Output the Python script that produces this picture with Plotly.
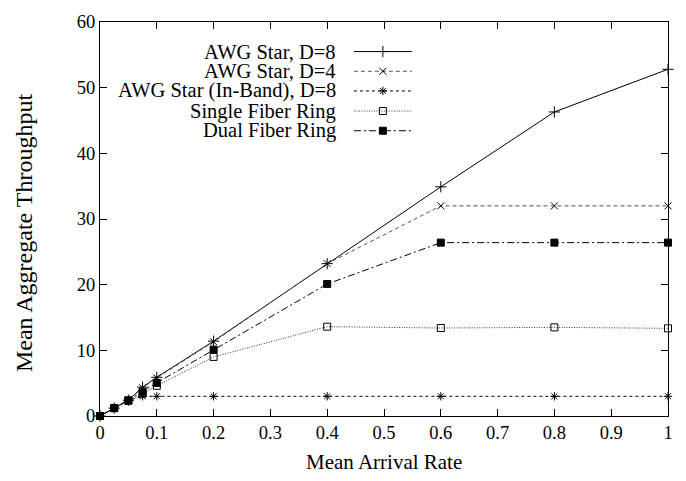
import plotly.graph_objects as go

rates = [0, 0.025, 0.05, 0.075, 0.1, 0.2, 0.4, 0.6, 0.8, 1.0]
awg_d8 = [0, 1.2, 2.4, 4.4, 5.9, 11.4, 23.2, 34.9, 46.3, 52.8]
awg_d4 = [0, 1.2, 2.4, 4.3, 5.8, 11.3, 23.2, 32.0, 32.0, 32.0]
awg_inband = [0, 1.2, 2.4, 3.0, 3.0, 3.0, 3.0, 3.0, 3.0, 3.0]
single_ring = [0, 1.2, 2.3, 3.4, 4.6, 9.0, 13.6, 13.4, 13.5, 13.35]
dual_ring = [0, 1.2, 2.4, 3.7, 5.05, 10.1, 20.1, 26.4, 26.4, 26.4]

names = ["AWG Star, D=8", "AWG Star, D=4", "AWG Star (In-Band), D=8",
         "Single Fiber Ring", "Dual Fiber Ring"]
series = [awg_d8, awg_d4, awg_inband, single_ring, dual_ring]
dashes = ["solid", "4px,3px", "3px,3px", "1px,1.5px", "7px,3px,2px,3px"]
line_colors = ["#000000", "#555555", "#000000", "#333333", "#000000"]
symbols = ["cross-thin-open", "x-thin-open", "asterisk-open", "square-open", "square"]
msizes = [8, 7, 7, 7, 7]

font_family = "Liberation Serif, Times New Roman, serif"

fig = go.Figure()
for name, ys, d, c, s, ms in zip(names, series, dashes, line_colors, symbols, msizes):
    fig.add_trace(go.Scatter(
        x=rates, y=ys, name=name, mode="lines+markers",
        line=dict(color=c, width=1, dash=d),
        marker=dict(symbol=s, size=ms, color="#000000",
                    line=dict(color="#000000", width=1)),
        showlegend=False, cliponaxis=False))

# Custom legend (text right-aligned, sample to the right) on an overlay axis
leg_rows = [0.925, 0.875, 0.825, 0.774, 0.724]
for name, yr, d, c, s, ms in zip(names, leg_rows, dashes, line_colors, symbols, msizes):
    fig.add_trace(go.Scatter(
        x=[0.447, 0.549], y=[yr, yr], mode="lines", xaxis="x2", yaxis="y2",
        line=dict(color=c, width=1, dash=d), showlegend=False, hoverinfo="skip"))
    fig.add_trace(go.Scatter(
        x=[0.498], y=[yr], mode="markers", xaxis="x2", yaxis="y2",
        marker=dict(symbol=s, size=ms, color="#000000",
                    line=dict(color="#000000", width=1)),
        showlegend=False, hoverinfo="skip"))
    fig.add_annotation(x=0.419, y=yr, xref="x2", yref="y2", text=name,
                       showarrow=False, xanchor="right", yanchor="middle",
                       font=dict(family=font_family, size=20.5, color="#000000"))

# Axis titles as annotations for exact placement
fig.add_annotation(x=0.5, y=-0.118, xref="paper", yref="paper", text="Mean Arrival Rate",
                   showarrow=False, xanchor="center", yanchor="middle",
                   font=dict(family=font_family, size=21, color="#000000"))
fig.add_annotation(x=-0.134, y=0.464, xref="paper", yref="paper", text="Mean Aggregate Throughput",
                   showarrow=False, xanchor="center", yanchor="middle", textangle=-90,
                   font=dict(family=font_family, size=24, color="#000000"))

axis_common = dict(showgrid=False, zeroline=False, showline=True, linecolor="#000000",
                   linewidth=1, mirror="ticks", ticks="inside", ticklen=7,
                   tickcolor="#000000", tickwidth=1,
                   tickfont=dict(family=font_family, size=18.5, color="#000000"))

fig.update_layout(
    width=686, height=481,
    margin=dict(l=100, r=18, t=17, b=65),
    paper_bgcolor="white", plot_bgcolor="white",
    font=dict(family=font_family, size=18, color="#000000"),
    xaxis=dict(range=[0, 1], tickvals=[i / 10 for i in range(11)],
               ticktext=["0", "0.1", "0.2", "0.3", "0.4", "0.5", "0.6", "0.7", "0.8", "0.9", "1"],
               **axis_common),
    yaxis=dict(range=[0, 60], tickvals=[0, 10, 20, 30, 40, 50, 60],
               **axis_common),
    xaxis2=dict(range=[0, 1], overlaying="x", visible=False, anchor="y2"),
    yaxis2=dict(range=[0, 1], overlaying="y", visible=False, anchor="x2"),
)

fig.write_html("out.html")
